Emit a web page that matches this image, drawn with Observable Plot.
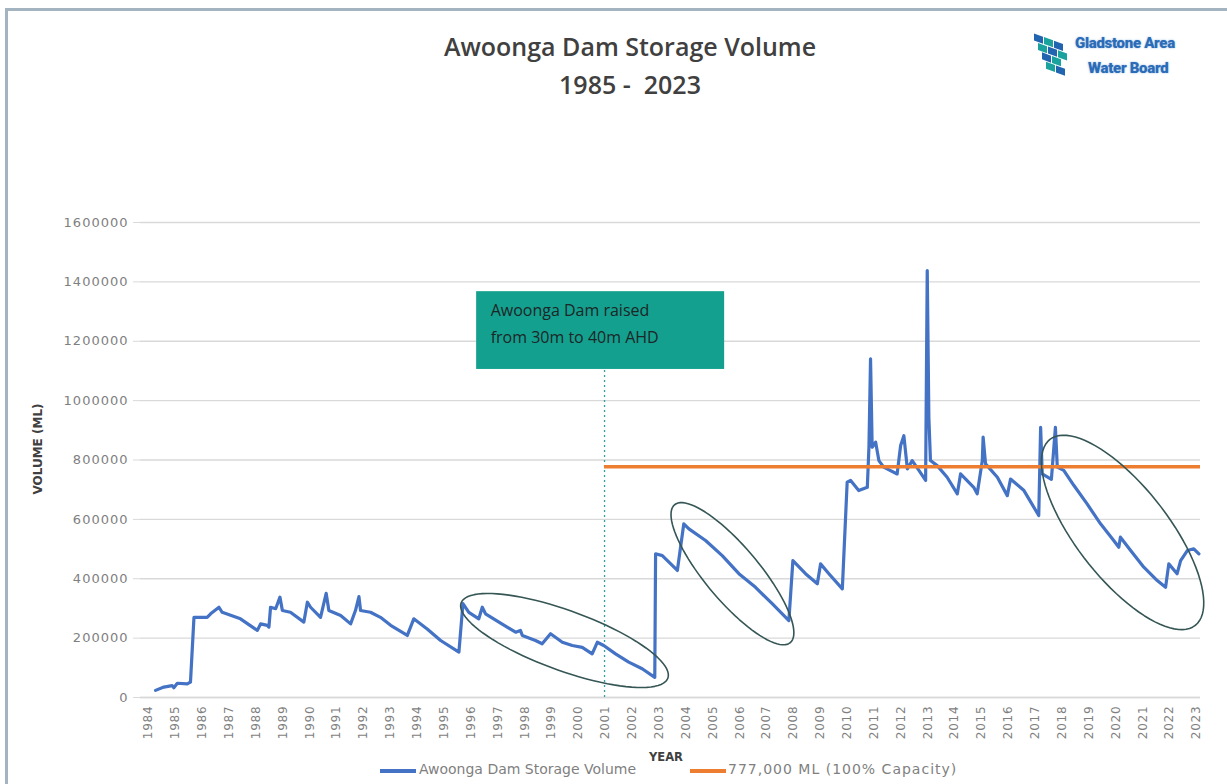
<!DOCTYPE html>
<html><head><meta charset="utf-8">
<script src="https://cdn.jsdelivr.net/npm/d3@7"></script>
<script src="https://cdn.jsdelivr.net/npm/@observablehq/plot@0.6"></script>
<style>
html,body{margin:0;padding:0;background:#fff;overflow:hidden;}
#wrap{position:relative;width:1227px;height:784px;overflow:hidden;background:#fff;}
#frame{position:absolute;left:5px;top:8px;width:1400px;height:1000px;border-top:3px solid #a3b4c0;border-left:3px solid #a3b4c0;}
#chart{position:absolute;left:0;top:0;}
.t{position:absolute;white-space:nowrap;}
#title1,#title2{left:330px;width:600px;text-align:center;font-family:"Open Sans";font-weight:600;color:#404040;font-size:25px;}
#title1{top:29px;}
#title2{top:67px;}
#logo{position:absolute;left:1030px;top:30px;}
.logotxt{position:absolute;white-space:nowrap;font-family:Roboto;font-weight:900;color:#2a6cb8;font-size:15px;letter-spacing:-0.3px;text-shadow:0 0 2px rgba(42,108,184,0.5);}
#ylab{left:38px;top:449px;transform:translate(-50%,-50%) rotate(-90deg);font-family:"DejaVu Sans";font-weight:bold;font-size:12px;color:#404040;}
#xlab{left:649px;top:750px;font-family:"DejaVu Sans";font-weight:bold;font-size:11.5px;color:#404040;}
.sw{position:absolute;height:4px;top:769px;width:36px;}
.lt{top:761px;font-family:"DejaVu Sans";font-size:14px;color:#7f7f7f;}
svg [aria-label="y-axis tick label"] text{letter-spacing:1px;}
svg [aria-label="x-axis tick label"] text{letter-spacing:0.8px;}
</style></head>
<body><div id="wrap">
<div id="frame"></div>
<div id="chart"></div>
<div class="t" id="title1">Awoonga Dam Storage Volume</div>
<div class="t" id="title2">1985 -&nbsp; 2023</div>
<div id="logo">
 <svg width="44" height="52" viewBox="0 0 44 52">
  <g transform="skewY(20)">
   <rect x="4" y="2" width="9" height="7" fill="#2165b0"/><rect x="14" y="2" width="9" height="7" fill="#1aa39e"/><rect x="24" y="2" width="9" height="7" fill="#2165b0"/>
   <rect x="8" y="10" width="9" height="7" fill="#1aa39e"/><rect x="18" y="10" width="9" height="7" fill="#2165b0"/><rect x="28" y="10" width="9" height="7" fill="#1aa39e"/>
   <rect x="12" y="18" width="9" height="7" fill="#2165b0"/><rect x="22" y="18" width="9" height="7" fill="#1aa39e"/>
   <rect x="16" y="26" width="9" height="7" fill="#1aa39e"/><rect x="26" y="26" width="9" height="7" fill="#2165b0"/>
  </g>
 </svg>
 <div class="logotxt" style="left:45px;top:4px;">Gladstone Area</div>
 <div class="logotxt" style="left:58px;top:29px;">Water Board</div>
</div>
<div class="t" id="ylab">VOLUME (ML)</div>
<div class="t" id="xlab">YEAR</div>
<div class="sw" style="left:380px;background:#4472C4"></div>
<div class="t lt" style="left:419px;">Awoonga Dam Storage Volume</div>
<div class="sw" style="left:690px;background:#ED7D31"></div>
<div class="t lt" style="left:728px;letter-spacing:1px;">777,000 ML (100% Capacity)</div>
</div>
<script>
// ---- data ----
const years = [1984.26,1984.57,1984.88,1984.94,1985.07,1985.44,1985.56,1985.69,1986.18,1986.31,1986.62,1986.74,1987.42,1988.05,1988.17,1988.42,1988.48,1988.54,1988.73,1988.89,1988.98,1989.28,1989.78,1989.91,1990.03,1990.40,1990.61,1990.71,1991.15,1991.52,1991.70,1991.83,1991.89,1992.26,1992.63,1993.01,1993.63,1993.87,1994.37,1994.87,1995.55,1995.70,1995.92,1996.29,1996.42,1996.54,1997.04,1997.66,1997.84,1997.91,1998.40,1998.65,1998.96,1999.40,1999.77,2000.14,2000.51,2000.70,2000.94,2001.38,2001.87,2002.37,2002.84,2002.87,2003.12,2003.68,2003.92,2004.11,2004.73,2005.35,2005.97,2006.59,2007.21,2007.83,2007.98,2008.45,2008.89,2009.01,2009.32,2009.82,2010.00,2010.13,2010.43,2010.75,2010.81,2010.87,2010.93,2011.06,2011.18,2011.36,2011.86,2011.99,2012.11,2012.24,2012.42,2012.67,2012.92,2012.98,2013.04,2013.10,2013.35,2013.72,2014.10,2014.22,2014.71,2014.84,2015.03,2015.06,2015.15,2015.59,2015.96,2016.08,2016.58,2017.13,2017.20,2017.26,2017.60,2017.75,2017.82,2018.06,2018.44,2018.93,2019.43,2019.92,2020.11,2020.17,2020.55,2021.04,2021.54,2021.85,2021.97,2022.28,2022.41,2022.66,2022.90,2023.09];
const volumes = [24000,35000,40000,33000,48000,46000,52000,270000,270000,282000,304000,287000,265000,226000,248000,243000,237000,304000,299000,338000,293000,287000,254000,321000,304000,270000,351000,293000,276000,248000,293000,340000,293000,287000,270000,243000,209000,265000,231000,192000,153000,316000,287000,265000,304000,282000,254000,220000,226000,209000,192000,181000,215000,186000,175000,169000,147000,186000,175000,147000,119000,97000,68000,484000,478000,428000,585000,568000,529000,478000,417000,371000,316000,259000,461000,417000,383000,450000,417000,366000,725000,731000,697000,708000,843000,1141000,843000,860000,798000,776000,753000,849000,882000,770000,798000,765000,731000,1438000,944000,798000,781000,742000,686000,753000,708000,686000,798000,877000,787000,742000,680000,736000,697000,613000,910000,753000,735000,910000,776000,765000,714000,652000,585000,529000,506000,540000,495000,439000,394000,371000,450000,417000,461000,495000,501000,484000];
const capacityML = 777000;
const raisedYear = 2000.97;
const yTickValues = [0,200000,400000,600000,800000,1000000,1200000,1400000,1600000];
const xTickYears = [1984,1985,1986,1987,1988,1989,1990,1991,1992,1993,1994,1995,1996,1997,1998,1999,2000,2001,2002,2003,2004,2005,2006,2007,2008,2009,2010,2011,2012,2013,2014,2015,2016,2017,2018,2019,2020,2021,2022,2023];
const noteText = "Awoonga Dam raised\nfrom 30m to 40m AHD";
const noteBox = [{x1:1996.21, x2:2005.44, y1:1105000, y2:1367000}];
// annotation ellipses: centre in data units, radii (px) and tilt (deg)
const ellipses = [
  {id:1, cx:1999.48, cy:192000, a:110, b:30, angle:20},
  {id:2, cx:2005.73, cy:417000, a:90, b:27, angle:50},
  {id:3, cx:2020.25, cy:556000, a:118, b:46, angle:52}
];

// ---- layout ----
const W = 1227, H = 784, mL = 140, mR = 27, mT = 222, mB = 87;
const xDomain = [1983.7, 2023.15], yDomain = [0, 1600000];
const pxPerYear = (W - mL - mR) / (xDomain[1] - xDomain[0]);
const pxPerML = (H - mT - mB) / (yDomain[1] - yDomain[0]);

const series = years.map((y, i) => ({year: y, value: volumes[i]}));
const ellPts = [];
for (const e of ellipses) {
  const th = e.angle * Math.PI / 180;
  for (let k = 0; k <= 90; k++) {
    const t = k / 90 * 2 * Math.PI;
    const px = e.a * Math.cos(t) * Math.cos(th) - e.b * Math.sin(t) * Math.sin(th);
    const py = e.a * Math.cos(t) * Math.sin(th) + e.b * Math.sin(t) * Math.cos(th);
    ellPts.push({id: e.id, x: e.cx + px / pxPerYear, y: e.cy - py / pxPerML});
  }
}

const chart = Plot.plot({
  width: W, height: H,
  marginLeft: mL, marginRight: mR, marginTop: mT, marginBottom: mB,
  style: {fontFamily: "DejaVu Sans", background: "transparent", color: "#7f7f7f"},
  x: {domain: xDomain},
  y: {domain: yDomain},
  marks: [
    Plot.gridY(yTickValues, {stroke: "#d9d9d9", strokeOpacity: 1, strokeWidth: 1.3}),
    Plot.axisY(yTickValues, {tickFormat: d => String(d), tickSize: 7, tickPadding: 5, stroke: "#d9d9d9", fill: "#7f7f7f", fontSize: 13, label: null}),
    Plot.axisX(xTickYears, {tickFormat: d => String(d), tickRotate: -90, tickSize: 0, tickPadding: 8, fill: "#7f7f7f", fontSize: 12, label: null}),
    Plot.ruleY([0], {stroke: "#d9d9d9", strokeWidth: 1.3}),
    Plot.rect(noteBox, {x1: "x1", x2: "x2", y1: "y1", y2: "y2", fill: "#14a08f"}),
    Plot.text(noteBox, {x: "x1", y: "y2", text: () => noteText, dx: 14, dy: 5, textAnchor: "start", lineAnchor: "top", fontSize: 16, lineHeight: 1.7, fill: "#1c2626", fontFamily: "Open Sans", style: "letter-spacing:0.4px"}),
    Plot.ruleX([raisedYear], {y1: 0, y2: noteBox[0].y1, stroke: "#2fa0a4", strokeWidth: 1.3, strokeDasharray: "2,3"}),
    Plot.line(series, {x: "year", y: "value", stroke: "#4472C4", strokeWidth: 3.2, strokeLinejoin: "round"}),
    Plot.ruleY([capacityML], {x1: raisedYear, x2: xDomain[1], stroke: "#ED7D31", strokeWidth: 3.5}),
    Plot.line(ellPts, {x: "x", y: "y", z: "id", stroke: "#365656", strokeWidth: 1.6})
  ]
});
document.getElementById("chart").appendChild(chart);
</script>
</body></html>
